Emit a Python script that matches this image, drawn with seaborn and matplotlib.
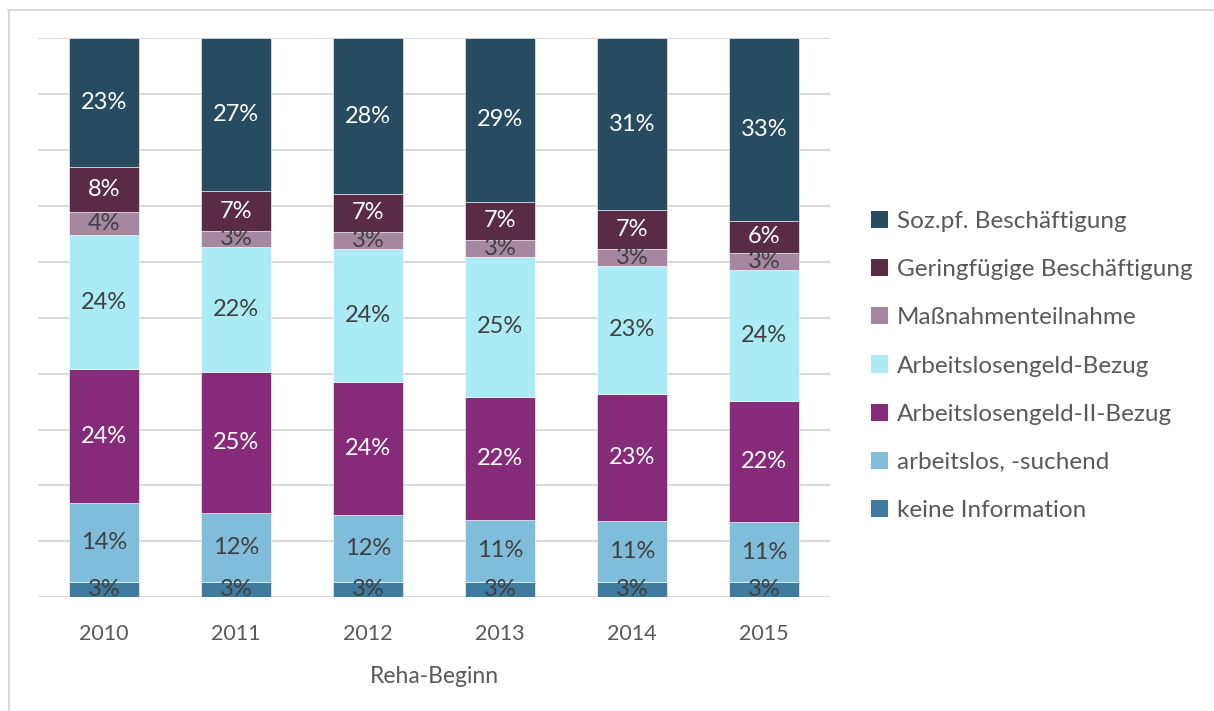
import matplotlib
matplotlib.use('Agg')
import matplotlib.pyplot as plt
import seaborn as sns
import pandas as pd
import numpy as np
from matplotlib.patches import Patch
from matplotlib.lines import Line2D

# data (percent of each bar, bottom -> top)
years = ['2010', '2011', '2012', '2013', '2014', '2015']
categories = ['keine Information', 'arbeitslos, -suchend', 'Arbeitslosengeld-II-Bezug',
              'Arbeitslosengeld-Bezug', 'Maßnahmenteilnahme',
              'Geringfügige Beschäftigung', 'Soz.pf. Beschäftigung']
keine_info = [2.8, 2.8, 2.8, 2.8, 2.7, 2.7]
arbeitslos = [14.0, 12.2, 11.9, 11.0, 10.9, 10.8]
alg2 = [24.0, 25.3, 23.8, 22.1, 22.8, 21.6]
alg1 = [24.0, 22.3, 23.8, 25.0, 22.9, 23.5]
massnahme = [4.1, 3.0, 3.0, 3.0, 3.0, 3.0]
geringfuegig = [8.1, 7.0, 6.9, 6.9, 6.9, 5.8]
sozpf = [23.0, 27.4, 27.8, 29.2, 30.8, 32.6]

colors = ['#3F7B9F', '#80BDDA', '#862B7A', '#AAEBF6', '#A5879F', '#592B45', '#274B60']
label_colors = ['#404040', '#404040', 'white', '#404040', '#404040', 'white', 'white']

df = pd.DataFrame({'year': years})
series = [keine_info, arbeitslos, alg2, alg1, massnahme, geringfuegig, sozpf]
for cat, vals in zip(categories, series):
    df[cat] = vals

sns.set_style('white')
plt.rcParams['font.family'] = ['Lato', 'DejaVu Sans']

fig = plt.figure(figsize=(12.14, 7.11), dpi=100)
ax = fig.add_axes([38 / 1214, 1 - 597.3 / 711, (830 - 38) / 1214, (597.3 - 38.3) / 711])

grey = '#595959'
bottom = np.zeros(len(years))
for i, cat in enumerate(categories):
    sns.barplot(x='year', y=cat, data=df, bottom=bottom, color=colors[i], width=0.53,
                saturation=1, edgecolor='white', linewidth=0.4, ax=ax, zorder=3)
    for j, v in enumerate(df[cat]):
        ax.text(j, bottom[j] + v / 2, f'{v:.0f}%', ha='center', va='center',
                fontsize=17, color=label_colors[i], zorder=4)
    bottom += df[cat].values

ax.set_ylim(0, 100)
ax.set_xlim(-0.5, len(years) - 0.5)
ax.set_yticks(np.arange(0, 101, 10))
ax.set_yticklabels([])
ax.yaxis.grid(True, color='#D9D9D9', linewidth=1.5, zorder=0)
ax.tick_params(axis='both', length=0)
ax.tick_params(axis='x', labelsize=15.5, labelcolor=grey, pad=19)
for s in ax.spines.values():
    s.set_visible(False)
ax.set_ylabel('')
ax.set_xlabel('Reha-Beginn', fontsize=16.5, color=grey, labelpad=16)

handles = [Patch(facecolor=colors[i], edgecolor='none') for i in range(len(categories))][::-1]
fig.legend(handles, categories[::-1], loc='center left', bbox_to_anchor=(871 / 1214, 1 - 366 / 711),
           frameon=False, fontsize=17.5, labelcolor=grey, handlelength=0.7, handleheight=0.7,
           handletextpad=0.35, labelspacing=1.12, borderaxespad=0, borderpad=0)

# outer chart frame (runs off the right and bottom edge)
fig.add_artist(Line2D([8 / 1214, 1.0], [1 - 9.5 / 711, 1 - 9.5 / 711], color='#D9D9D9', linewidth=1.5))
fig.add_artist(Line2D([8.5 / 1214, 8.5 / 1214], [0, 1 - 9.5 / 711], color='#D9D9D9', linewidth=1.5))

fig.savefig('out.png', dpi=100)
